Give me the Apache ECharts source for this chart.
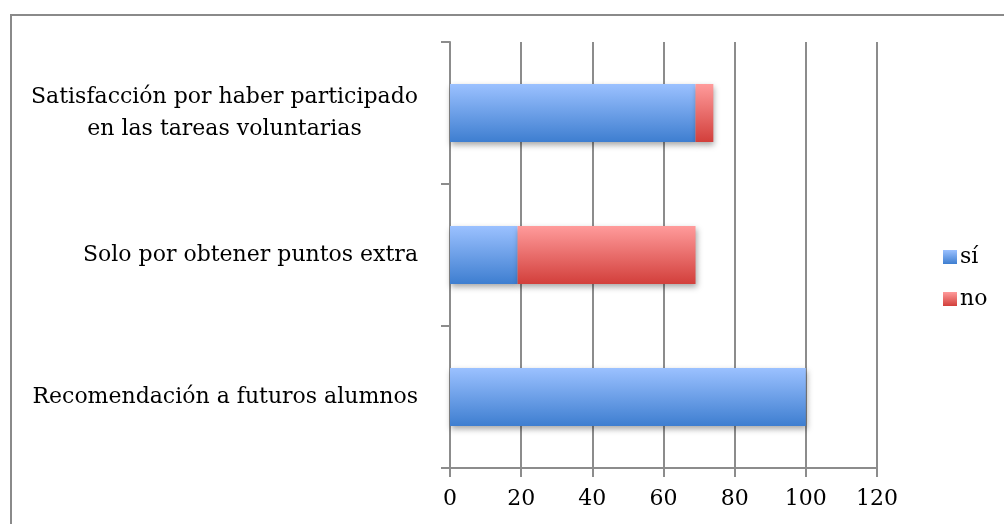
<!DOCTYPE html>
<html>
<head>
<meta charset="utf-8">
<script src="https://cdn.jsdelivr.net/npm/echarts@6/dist/echarts.min.js"></script>
<style>
  html, body { margin: 0; padding: 0; background: #fff; }
  #chart { width: 1004px; height: 524px; }
</style>
</head>
<body>
<div id="chart"></div>
<script>
const categories = [
  "Satisfacción por haber participado\nen las tareas voluntarias",
  "Solo por obtener puntos extra",
  "Recomendación a futuros alumnos"
]
const siValues = [69, 19, 100]
const noValues = [5, 50, 0]
const xTicks = { min: 0, max: 120, interval: 20 }

const FONT = "DejaVu Serif"
const LABEL_SIZE = 22
const GRID_COLOR = "#8c8c8c"

function textWidth(text, size) {
  const ctx = document.createElement("canvas").getContext("2d")
  ctx.font = size + "px '" + FONT + "'"
  return Math.ceil(ctx.measureText(text).width)
}

function gradient(top, bottom) {
  return new echarts.graphic.LinearGradient(0, 0, 0, 1, [
    { offset: 0, color: top },
    { offset: 1, color: bottom }
  ])
}

const chart = echarts.init(document.getElementById("chart"), null, { renderer: "canvas" })

const barShadow = {
  shadowColor: "rgba(0,0,0,0.35)",
  shadowBlur: 6,
  shadowOffsetY: 3,
  shadowOffsetX: 1
}

chart.setOption({
  animation: false,
  backgroundColor: "#fff",
  textStyle: { fontFamily: FONT, color: "#000" },
  graphic: [{
    type: "rect",
    left: 8.5, top: 12.5,
    shape: { width: 1010, height: 530 },
    style: { fill: "none", stroke: "#8a8a8a", lineWidth: 2 },
    silent: true
  }],
  grid: { left: 450, right: 127, top: 42, bottom: 56 },
  legend: {
    orient: "vertical",
    left: 938,
    top: 241,
    itemWidth: 14,
    itemHeight: 14,
    itemGap: 20,
    icon: "rect",
    textStyle: { fontFamily: FONT, fontSize: LABEL_SIZE, color: "#000", padding: [0, 0, 0, -2] },
    data: ["sí", "no"]
  },
  xAxis: {
    type: "value",
    min: xTicks.min,
    max: xTicks.max,
    interval: xTicks.interval,
    axisLine: { show: true, lineStyle: { color: GRID_COLOR, width: 2 } },
    axisTick: { show: true, length: 9, lineStyle: { color: GRID_COLOR, width: 2 } },
    splitLine: { show: true, lineStyle: { color: GRID_COLOR, width: 2 } },
    axisLabel: { fontFamily: FONT, fontSize: LABEL_SIZE, color: "#000", margin: 20 }
  },
  yAxis: {
    type: "category",
    inverse: true,
    data: categories,
    axisLine: { show: true, lineStyle: { color: GRID_COLOR, width: 2 } },
    axisTick: { show: true, length: 9, lineStyle: { color: GRID_COLOR, width: 2 } },
    axisLabel: {
      fontFamily: FONT,
      fontSize: LABEL_SIZE,
      color: "#000",
      margin: 32,
      lineHeight: 32,
      formatter: (value) => {
        const lines = value.split("\n")
        if (lines.length === 1) return value
        return lines.map((l) => "{c|" + l + "}").join("\n")
      },
      rich: {
        c: {
          fontFamily: FONT,
          fontSize: LABEL_SIZE,
          lineHeight: 32,
          width: textWidth("Satisfacción por haber participado", LABEL_SIZE),
          align: "center"
        }
      }
    }
  },
  series: [
    {
      name: "sí",
      type: "bar",
      stack: "total",
      barWidth: 58,
      data: siValues,
      itemStyle: Object.assign({ color: gradient("#9bc1ff", "#3e7ed0") }, barShadow)
    },
    {
      name: "no",
      type: "bar",
      stack: "total",
      barWidth: 58,
      data: noValues,
      itemStyle: Object.assign({ color: gradient("#ff9b9b", "#d23f3b") }, barShadow)
    }
  ]
})
</script>
</body>
</html>
